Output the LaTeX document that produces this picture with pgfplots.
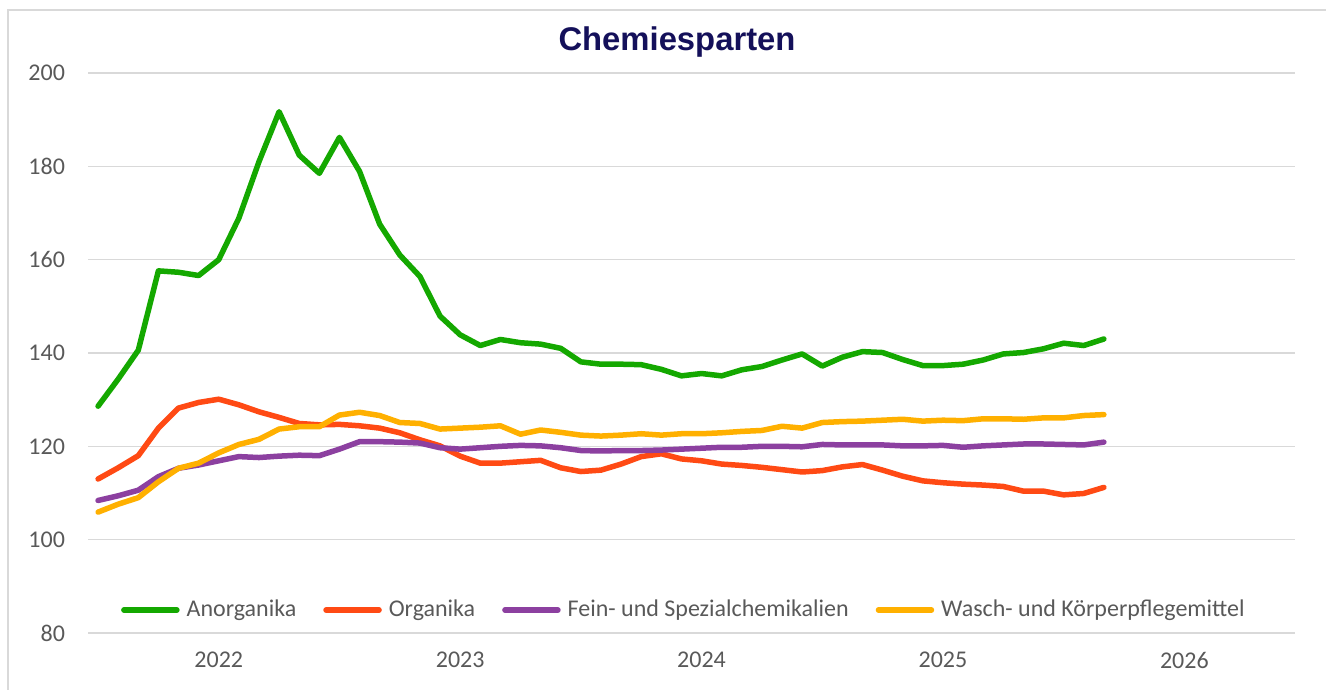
\documentclass[border=0pt]{standalone}
\usepackage{fontspec}
\setmainfont{Carlito}
\newfontfamily\titlefont{Liberation Sans}
\usepackage{pgfplots}
\usepackage{pgfplotstable}
\pgfplotsset{compat=1.18}
\definecolor{cgreen}{RGB}{20,168,0}
\definecolor{cred}{RGB}{255,74,20}
\definecolor{cpurple}{RGB}{140,64,160}
\definecolor{cyellow}{RGB}{255,176,0}
\definecolor{cgrid}{RGB}{217,217,217}
\definecolor{ctext}{RGB}{89,89,89}
\definecolor{ctitle}{RGB}{20,16,90}

\pgfplotstableread{
i anorg org fein wasch
0 128.6 113.0 108.4 105.9
1 134.4 115.4 109.4 107.6
2 140.6 118.0 110.6 109.0
3 157.6 123.9 113.5 112.4
4 157.3 128.2 115.3 115.3
5 156.6 129.4 116.0 116.4
6 160.0 130.1 116.9 118.6
7 168.9 128.9 117.8 120.4
8 181.0 127.4 117.6 121.5
9 191.7 126.2 117.9 123.7
10 182.4 124.9 118.1 124.2
11 178.5 124.6 118.0 124.2
12 186.2 124.7 119.4 126.7
13 178.9 124.4 121.0 127.3
14 167.6 123.9 121.0 126.6
15 161.0 122.9 120.9 125.1
16 156.4 121.4 120.7 124.9
17 147.9 120.1 119.7 123.7
18 143.9 117.9 119.4 123.9
19 141.6 116.4 119.7 124.1
20 142.9 116.4 120.0 124.4
21 142.2 116.7 120.2 122.6
22 141.9 117.0 120.1 123.5
23 141.0 115.4 119.7 123.0
24 138.1 114.6 119.1 122.4
25 137.6 114.9 119.0 122.2
26 137.6 116.2 119.1 122.4
27 137.5 117.8 119.1 122.7
28 136.5 118.4 119.2 122.4
29 135.1 117.3 119.4 122.7
30 135.6 116.9 119.6 122.7
31 135.1 116.2 119.8 122.9
32 136.4 115.9 119.8 123.2
33 137.1 115.5 120.0 123.4
34 138.5 115.0 120.0 124.3
35 139.8 114.5 119.9 123.9
36 137.2 114.8 120.4 125.1
37 139.1 115.6 120.3 125.3
38 140.3 116.1 120.3 125.4
39 140.1 114.9 120.3 125.6
40 138.6 113.6 120.1 125.8
41 137.3 112.6 120.1 125.4
42 137.3 112.2 120.2 125.6
43 137.6 111.9 119.8 125.5
44 138.5 111.7 120.1 125.9
45 139.8 111.4 120.3 125.9
46 140.1 110.4 120.5 125.8
47 140.9 110.4 120.5 126.1
48 142.1 109.6 120.4 126.1
49 141.6 109.9 120.3 126.6
50 143.0 111.2 120.9 126.8
}\data

\begin{document}
\begin{tikzpicture}[font=\fontsize{12bp}{14bp}\selectfont]
\useasboundingbox (0,0) rectangle (663bp,345bp);
\draw[cgrid, line width=0.75bp] (4bp,-1bp) -- (4bp,340bp) -- (664bp,340bp);
\node[font=\titlefont\bfseries\fontsize{16.4bp}{18bp}\selectfont, text=ctitle, anchor=base, inner sep=0pt] at (338.5bp,319.5bp) {Chemiesparten};
\begin{axis}[
  at={(44bp,28.5bp)}, anchor=south west,
  scale only axis, width=603.5bp, height=280bp,
  xmin=-0.5, xmax=59.5, ymin=80, ymax=200,
  ytick={80,100,...,200},
  xtick={6,18,30,42,54},
  xticklabels={2022,2023,2024,2025,2026},
  axis line style={draw=none},
  major tick length=0pt,
  ymajorgrids,
  grid style={cgrid, line width=0.75bp},
  tick label style={text=ctext, font=\fontsize{12bp}{14bp}\selectfont},
  /pgf/number format/assume math mode=true,
  yticklabel style={xshift=-8bp},
  xticklabel style={yshift=-6bp},
  legend columns=4,
  legend style={at={(0.4945,0.041)}, anchor=center, draw=none, fill=none,
    font=\fontsize{12bp}{14bp}\selectfont, text=ctext,
    nodes={inner xsep=2bp, inner ysep=1bp},
    column sep=0pt,
    /tikz/every odd column/.append style={column sep=1.5bp},
    /tikz/every even column/.append style={column sep=11.5bp}},
  legend image code/.code={\draw[#1, line cap=round] (0bp,0bp) -- (26.5bp,0bp);},
  every axis plot/.append style={line width=2.75bp, line join=round, line cap=round},
]
\addplot[cgreen] table[x=i, y=anorg] {\data};
\addlegendentry{Anorganika}
\addplot[cred] table[x=i, y=org] {\data};
\addlegendentry{Organika}
\addplot[cpurple] table[x=i, y=fein] {\data};
\addlegendentry{Fein- und Spezialchemikalien}
\addplot[cyellow] table[x=i, y=wasch] {\data};
\addlegendentry{Wasch- und Körperpflegemittel}
\end{axis}
\end{tikzpicture}
\end{document}
